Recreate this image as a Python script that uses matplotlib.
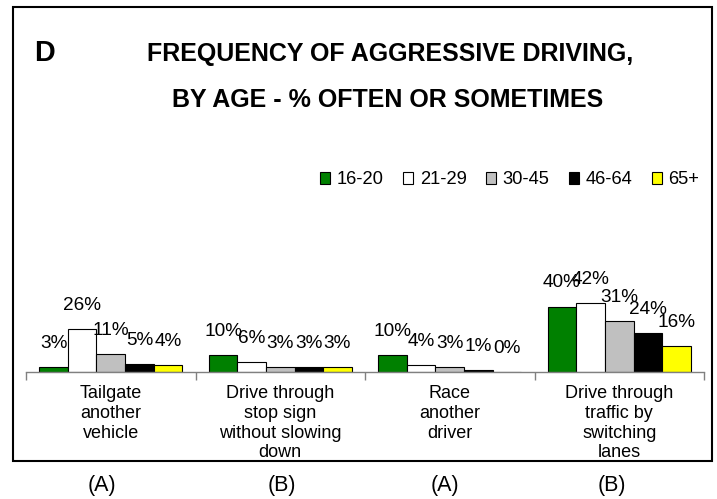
import matplotlib
matplotlib.use("Agg")
import matplotlib.pyplot as plt
from matplotlib import font_manager as fm
from matplotlib.patches import Rectangle
import numpy as np

# ---- data ----
categories = ["Tailgate\nanother\nvehicle",
              "Drive through\nstop sign\nwithout slowing\ndown",
              "Race\nanother\ndriver",
              "Drive through\ntraffic by\nswitching\nlanes"]
group_tags = ["(A)", "(B)", "(A)", "(B)"]
age_groups = ["16-20", "21-29", "30-45", "46-64", "65+"]
v_16_20 = [3, 10, 10, 40]
v_21_29 = [26, 6, 4, 42]
v_30_45 = [11, 3, 3, 31]
v_46_64 = [5, 3, 1, 24]
v_65_plus = [4, 3, 0, 16]
series = [v_16_20, v_21_29, v_30_45, v_46_64, v_65_plus]
colors = ["#008000", "#FFFFFF", "#C0C0C0", "#000000", "#FFFF00"]
title_line1 = "FREQUENCY OF AGGRESSIVE DRIVING,"
title_line2 = "BY AGE - % OFTEN OR SOMETIMES"
panel_letter = "D"


def pick(names):
    for n in names:
        try:
            fm.findfont(fm.FontProperties(family=n), fallback_to_default=False)
            return n
        except Exception:
            pass
    return "DejaVu Sans"


NARROW = pick(["Liberation Sans Narrow", "Arial Narrow", "Liberation Sans"])
IS_NARROW = NARROW in ("Liberation Sans Narrow", "Arial Narrow")
REG = pick(["Liberation Sans", "Arial", "DejaVu Sans"])
k = 1.0 if IS_NARROW else 0.83  # shrink regular-width font to fit widths

W, H = 717, 499
fig = plt.figure(figsize=(W / 100, H / 100), dpi=100)


def fx(px):
    return px / W


def fy(py):
    return (H - py) / H


# outer border
fig.patches.append(Rectangle((fx(13), fy(461)), fx(712) - fx(13), fy(7) - fy(461),
                             transform=fig.transFigure, fill=False,
                             edgecolor="black", linewidth=1.5))

base_px = 371.7
top_px = base_px - 163.0
ax = fig.add_axes([fx(26), fy(base_px), fx(704) - fx(26), fy(top_px) - fy(base_px)])
ax.set_xlim(0, 4)
ax.set_ylim(0, 100)
ax.patch.set_alpha(0)

n = len(series)
bw = 0.1687
x = np.arange(len(categories)) + 0.5
bars = []
for j, (vals, c, lab) in enumerate(zip(series, colors, age_groups)):
    xs = x + (j - (n - 1) / 2) * bw
    b = ax.bar(xs, vals, width=bw, color=c, edgecolor="#000000", linewidth=0.8, label=lab)
    bars.append(b)
    for xi, v in zip(xs, vals):
        ax.annotate(f"{v}%", xy=(xi, v), xytext=(0, 13.7), textcoords="offset points",
                    ha="center", va="baseline", fontsize=16.5 * k, family=NARROW)

for s in ["left", "right", "top"]:
    ax.spines[s].set_visible(False)
ax.spines["bottom"].set_color("#808080")
ax.spines["bottom"].set_linewidth(1.0)
ax.set_yticks([])
ax.set_xticks(np.arange(0, 5))
ax.set_xticklabels([])
ax.tick_params(axis="x", direction="out", length=6, width=1.0, color="#808080")

for xi, cat in zip(x, categories):
    ax.annotate(cat, xy=(xi, 0), xytext=(0, -9.5), textcoords="offset points",
                ha="center", va="top", fontsize=13, family=REG, linespacing=1.22)

tag_x = [102, 282, 445, 612]
for tx, tag in zip(tag_x, group_tags):
    fig.text(fx(tx), fy(485), tag, ha="center", va="center", fontsize=15.5, family=REG)

# titles
fs_title = 22 if IS_NARROW else 18
fig.text(fx(45), fy(61), panel_letter, ha="center", va="baseline",
         fontsize=fs_title * 1.15, fontweight="bold", family=NARROW)
fig.text(fx(390), fy(61), title_line1, ha="center", va="baseline",
         fontsize=fs_title, fontweight="bold", family=NARROW)
fig.text(fx(388), fy(107), title_line2, ha="center", va="baseline",
         fontsize=fs_title, fontweight="bold", family=NARROW)

fig.legend(handles=bars, labels=age_groups, loc="center right",
           bbox_to_anchor=(fx(699), fy(180)), ncol=5, frameon=False,
           prop=fm.FontProperties(family=NARROW, size=16 * k),
           handlelength=0.55, handleheight=0.65, handletextpad=0.35,
           columnspacing=1.05, borderpad=0, borderaxespad=0)

fig.savefig("out.png", dpi=100)
